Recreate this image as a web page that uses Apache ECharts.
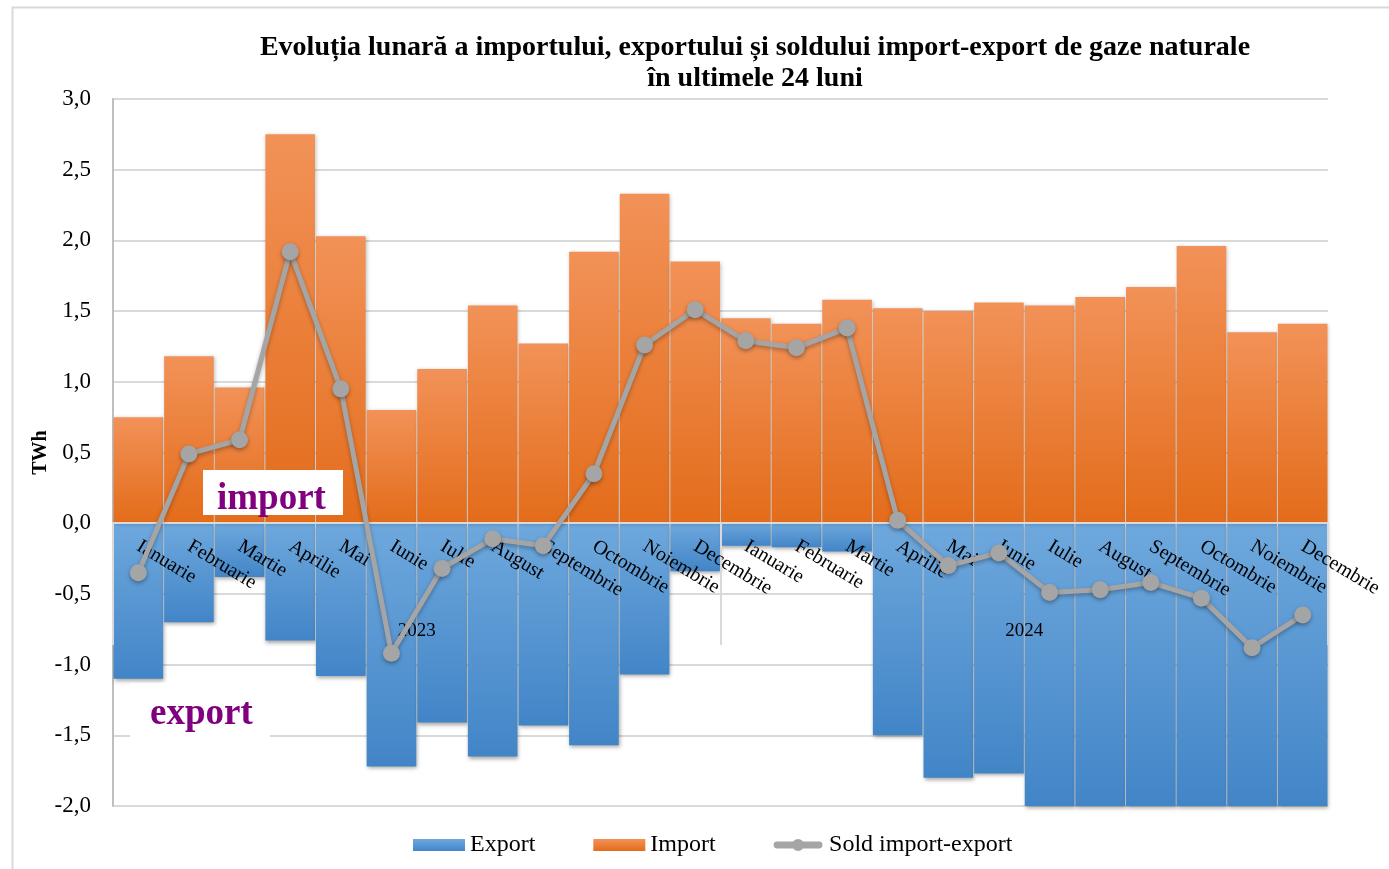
<!DOCTYPE html>
<html>
<head>
<meta charset="utf-8">
<script src="https://cdn.jsdelivr.net/npm/echarts@6/dist/echarts.min.js"></script>
<style>
html,body{margin:0;padding:0;background:#fff;}
#chart{width:1389px;height:869px;}
</style>
</head>
<body>
<div id="chart"></div>
<script>
const months = ['Ianuarie','Februarie','Martie','Aprilie','Mai','Iunie','Iulie','August','Septembrie','Octombrie','Noiembrie','Decembrie',
                'Ianuarie','Februarie','Martie','Aprilie','Mai','Iunie','Iulie','August','Septembrie','Octombrie','Noiembrie','Decembrie'];
const years = ['2023','2024'];
const importVals = [0.75,1.18,0.96,2.75,2.03,0.80,1.09,1.54,1.27,1.92,2.33,1.85,
                    1.45,1.41,1.58,1.52,1.50,1.56,1.54,1.60,1.67,1.96,1.35,1.41];
const exportVals = [-1.10,-0.70,-0.38,-0.83,-1.08,-1.72,-1.41,-1.65,-1.43,-1.57,-1.07,-0.34,
                    -0.16,-0.17,-0.20,-1.50,-1.80,-1.77,-2.03,-2.07,-2.09,-2.49,-2.24,-2.06];
const soldVals = [-0.35,0.49,0.59,1.92,0.95,-0.92,-0.32,-0.11,-0.16,0.35,1.26,1.51,
                  1.29,1.24,1.38,0.02,-0.30,-0.21,-0.49,-0.47,-0.42,-0.53,-0.88,-0.65];
const yTicks = {min:-2, max:3, step:0.5};

const SERIF = "'Liberation Serif','Times New Roman',serif";
const orangeGrad = new echarts.graphic.LinearGradient(0,0,0,1,[{offset:0,color:'#F29258'},{offset:1,color:'#E36C1A'}]);
const blueGrad = new echarts.graphic.LinearGradient(0,0,0,1,[{offset:0,color:'#6EA8DD'},{offset:1,color:'#4285C7'}]);
const lineIcon = 'path://M4,3H53A4,4 0 0 1 53,11H4A4,4 0 0 1 4,3Z M21.5,7A7,7 0 1 1 35.5,7A7,7 0 1 1 21.5,7Z';

const chart = echarts.init(document.getElementById('chart'), null, {renderer:'canvas'});
chart.setOption({
  animation:false,
  backgroundColor:'#fff',
  title:{
    text:'Evoluția lunară a importului, exportului și soldului import-export de gaze naturale\nîn ultimele 24 luni',
    left:750, textAlign:'center', top:27,
    textStyle:{fontFamily:SERIF, fontWeight:'bold', fontSize:28, color:'#000', lineHeight:31}
  },
  legend:{
    left:408, top:828, itemWidth:52, itemHeight:12, itemGap:58,
    textStyle:{fontFamily:SERIF, fontSize:24, color:'#000'},
    data:[{name:'Export', icon:'rect'},{name:'Import', icon:'rect'},
          {name:'Sold import-export', icon:lineIcon, itemStyle:{color:'#A5A5A5'}}]
  },
  grid:[
    {left:113, right:61, top:99, bottom:63},
    {left:113, right:61, top:522, height:123},
    {left:113, right:61, top:521, height:1}
  ],
  xAxis:[
    {type:'category', gridIndex:0, data:months, z:5,
     axisLine:{onZero:true, lineStyle:{color:'#D9D9D9', width:2}},
     axisTick:{show:false},
     axisLabel:{show:false}
    },
    {type:'category', gridIndex:1, data:years, position:'bottom', z:8,
     axisLine:{show:false},
     axisTick:{show:true, inside:true, length:123, lineStyle:{color:'#D9D9D9', width:2}},
     splitLine:{show:false},
     axisLabel:{inside:true, margin:4, fontFamily:SERIF, fontSize:19, color:'#000'}
    },
    {type:'category', gridIndex:2, data:months, position:'bottom', z:9,
     axisLine:{show:false},
     axisTick:{show:false},
     axisLabel:{rotate:-31, margin:23, interval:0, fontFamily:SERIF, fontSize:20, color:'#000'}
    }
  ],
  yAxis:[
    {type:'value', gridIndex:0, min:yTicks.min, max:yTicks.max, interval:yTicks.step,
     name:'TWh', nameLocation:'middle', nameGap:62, nameRotate:90, nameMoveOverlap:false,
     nameTextStyle:{fontFamily:SERIF, fontWeight:'bold', fontSize:20, color:'#000'},
     axisLine:{show:true, lineStyle:{color:'#BFBFBF', width:2}},
     axisTick:{show:false},
     splitLine:{lineStyle:{color:'#D9D9D9', width:2}},
     axisLabel:{margin:22, fontFamily:SERIF, fontSize:23, color:'#000',
       formatter:v=>v.toFixed(1).replace('.',',')}
    },
    {type:'value', gridIndex:1, show:false, min:0, max:1},
    {type:'value', gridIndex:2, show:false, min:0, max:1}
  ],
  series:[
    {name:'Export', type:'bar', data:exportVals, barGap:'-100%', barCategoryGap:'2%',
     itemStyle:{color:blueGrad, shadowColor:'rgba(0,0,0,0.35)', shadowBlur:4, shadowOffsetY:2, shadowOffsetX:1}},
    {name:'Import', type:'bar', data:importVals, barGap:'-100%', barCategoryGap:'2%',
     itemStyle:{color:orangeGrad, shadowColor:'rgba(0,0,0,0.25)', shadowBlur:4, shadowOffsetY:1, shadowOffsetX:1}},
    {name:'Sold import-export', type:'line', data:soldVals, z:10,
     symbol:'circle', symbolSize:17,
     lineStyle:{color:'#A5A5A5', width:5, shadowColor:'rgba(0,0,0,0.3)', shadowBlur:4, shadowOffsetY:2},
     itemStyle:{color:'#A5A5A5', shadowColor:'rgba(0,0,0,0.35)', shadowBlur:4, shadowOffsetY:2}}
  ],
  graphic:[
    {type:'rect', left:10, top:5, shape:{width:1400, height:900}, style:{fill:'none', stroke:'#D9D9D9', lineWidth:2}, z:-1, silent:true},
    {type:'rect', left:203, top:470, shape:{width:140, height:45}, style:{fill:'#fff'}, z:20},
    {type:'text', left:217, top:481, z:21, style:{text:'import', fill:'#800080', font:"bold 37px 'Liberation Serif','Times New Roman',serif"}},
    {type:'rect', left:130, top:683, shape:{width:140, height:55}, style:{fill:'#fff'}, z:20},
    {type:'text', left:150, top:696, z:21, style:{text:'export', fill:'#800080', font:"bold 37px 'Liberation Serif','Times New Roman',serif"}}
  ]
});
</script>
</body>
</html>
